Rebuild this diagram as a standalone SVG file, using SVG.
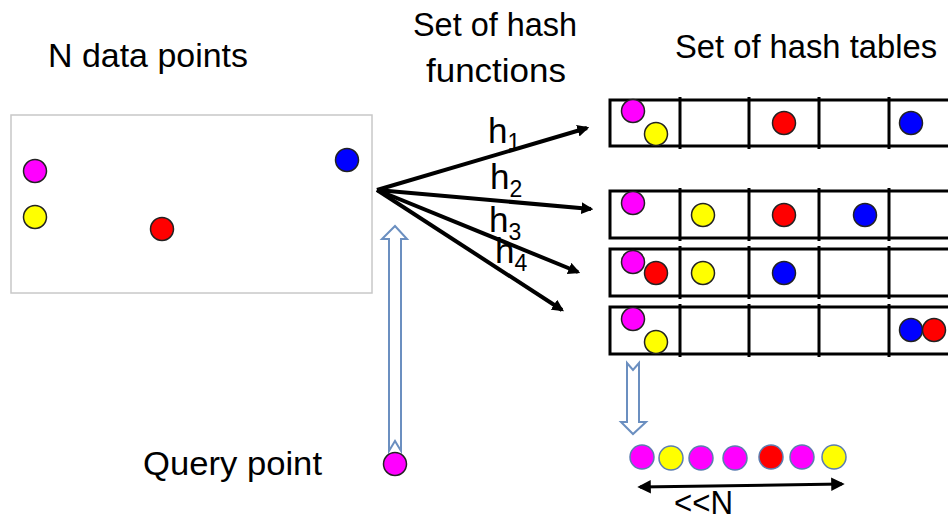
<svg xmlns="http://www.w3.org/2000/svg" width="948" height="520" viewBox="0 0 948 520">
<defs>
<style>
.t{font-family:"Liberation Sans",Arial,sans-serif;font-size:33px;fill:#000}
.h{font-family:"Liberation Sans",Arial,sans-serif;font-size:35px;fill:#000}
.s{font-size:23px}
.c{stroke:#222;stroke-width:1.5}
.r{stroke:#5b7db0;stroke-width:1.5}
.m{fill:#ff00ff}.y{fill:#ffff00}.rd{fill:#ff0000}.b{fill:#0000ff}
.tbl{fill:#fff;stroke:#000;stroke-width:3}
.div{stroke:#000;stroke-width:3}
.ha{stroke:#000;stroke-width:4;fill:none;marker-end:url(#ah)}
.blk{fill:#fff;stroke:#6b8fc0;stroke-width:2}
</style>
<marker id="ah" viewBox="0 0 10 10" refX="8" refY="5" markerWidth="3" markerHeight="3" orient="auto" markerUnits="strokeWidth">
<path d="M0,0 L10,5 L0,10 z" fill="#000"/>
</marker>
<marker id="ae" viewBox="0 0 10 10" refX="8" refY="5" markerWidth="5" markerHeight="4.5" orient="auto" markerUnits="strokeWidth">
<path d="M0,0 L10,5 L0,10 z" fill="#000"/>
</marker>
<marker id="as" viewBox="0 0 10 10" refX="2" refY="5" markerWidth="5" markerHeight="4.5" orient="auto" markerUnits="strokeWidth">
<path d="M10,0 L0,5 L10,10 z" fill="#000"/>
</marker>
</defs>
<rect width="948" height="520" fill="#fff"/>

<g id="titles">
<text class="t" x="48" y="67" textLength="200" lengthAdjust="spacingAndGlyphs">N data points</text>
<text class="t" x="413" y="36" textLength="164" lengthAdjust="spacingAndGlyphs">Set of hash</text>
<text class="t" x="426" y="82" textLength="140" lengthAdjust="spacingAndGlyphs">functions</text>
<text class="t" x="675" y="58" textLength="262" lengthAdjust="spacingAndGlyphs">Set of hash tables</text>
</g>

<g id="data-points">
<rect x="11" y="115" width="361" height="178" fill="#fff" stroke="#c8c8c8" stroke-width="1.5"/>
<circle class="c m" cx="35" cy="171" r="11.5"/>
<circle class="c y" cx="35" cy="217" r="11.5"/>
<circle class="c rd" cx="162" cy="229" r="11.5"/>
<circle class="c b" cx="347" cy="160" r="11.5"/>
</g>

<g id="connectors">
<line class="ha" x1="377" y1="190" x2="587" y2="128"/>
<line class="ha" x1="377" y1="190" x2="591" y2="209"/>
<line class="ha" x1="377" y1="190" x2="578" y2="272"/>
<line class="ha" x1="377" y1="190" x2="562" y2="310"/>
<path class="blk" d="M395,226 L407,239 L401,239 L401,451 L395,441 L389,451 L389,239 L382,239 Z"/>
<path class="blk" d="M627,363 L633,370 L639,363 L639,422 L646,422 L633,434 L621,422 L627,422 Z"/>
<line x1="640" y1="487" x2="842" y2="484" stroke="#000" stroke-width="3" marker-start="url(#as)" marker-end="url(#ae)"/>
</g>

<g id="hash-labels">
<text class="h" x="488" y="143">h<tspan class="s" dy="7">1</tspan></text>
<text class="h" x="490" y="189">h<tspan class="s" dy="8">2</tspan></text>
<text class="h" x="489" y="232">h<tspan class="s" dy="8">3</tspan></text>
<text class="h" x="495" y="263">h<tspan class="s" dy="8">4</tspan></text>
</g>

<g id="table-1">
<rect class="tbl" x="610" y="100" width="400" height="46"/>
<path class="div" d="M680,97V149M749,97V149M819,97V149M889,97V149"/>
<circle class="c m" cx="633" cy="111" r="11.5"/>
<circle class="c y" cx="656" cy="134" r="11.5"/>
<circle class="c rd" cx="784" cy="123" r="11.5"/>
<circle class="c b" cx="911" cy="123" r="11.5"/>
</g>

<g id="table-2">
<rect class="tbl" x="610" y="191" width="400" height="47"/>
<path class="div" d="M680,188V241M749,188V241M819,188V241M889,188V241"/>
<circle class="c m" cx="633" cy="203" r="11.5"/>
<circle class="c y" cx="703" cy="215" r="11.5"/>
<circle class="c rd" cx="784" cy="215" r="11.5"/>
<circle class="c b" cx="865" cy="215" r="11.5"/>
</g>

<g id="table-3">
<rect class="tbl" x="610" y="249" width="400" height="47"/>
<path class="div" d="M680,246V299M749,246V299M819,246V299M889,246V299"/>
<circle class="c m" cx="633" cy="262" r="11.5"/>
<circle class="c rd" cx="656" cy="273" r="11.5"/>
<circle class="c y" cx="703" cy="273" r="11.5"/>
<circle class="c b" cx="784" cy="273" r="11.5"/>
</g>

<g id="table-4">
<rect class="tbl" x="610" y="307" width="400" height="47"/>
<path class="div" d="M680,304V357M749,304V357M819,304V357M889,304V357"/>
<circle class="c m" cx="633" cy="319" r="11.5"/>
<circle class="c y" cx="656" cy="342" r="11.5"/>
<circle class="c b" cx="911" cy="330" r="11.5"/>
<circle class="c rd" cx="934" cy="330" r="11.5"/>
</g>

<g id="query">
<text class="t" x="143" y="475" textLength="179" lengthAdjust="spacingAndGlyphs">Query point</text>
<circle class="c m" cx="395" cy="464" r="11.5"/>
</g>

<g id="result">
<circle class="r m" cx="642" cy="457" r="12"/>
<circle class="r y" cx="671" cy="458" r="12"/>
<circle class="r m" cx="701" cy="458" r="12"/>
<circle class="r m" cx="735" cy="458" r="12"/>
<circle class="r rd" cx="771" cy="457" r="12"/>
<circle class="r m" cx="802" cy="457" r="12"/>
<circle class="r y" cx="834" cy="457" r="12"/>
<text class="t" x="674" y="514" textLength="59" lengthAdjust="spacingAndGlyphs">&lt;&lt;N</text>
</g>
</svg>
